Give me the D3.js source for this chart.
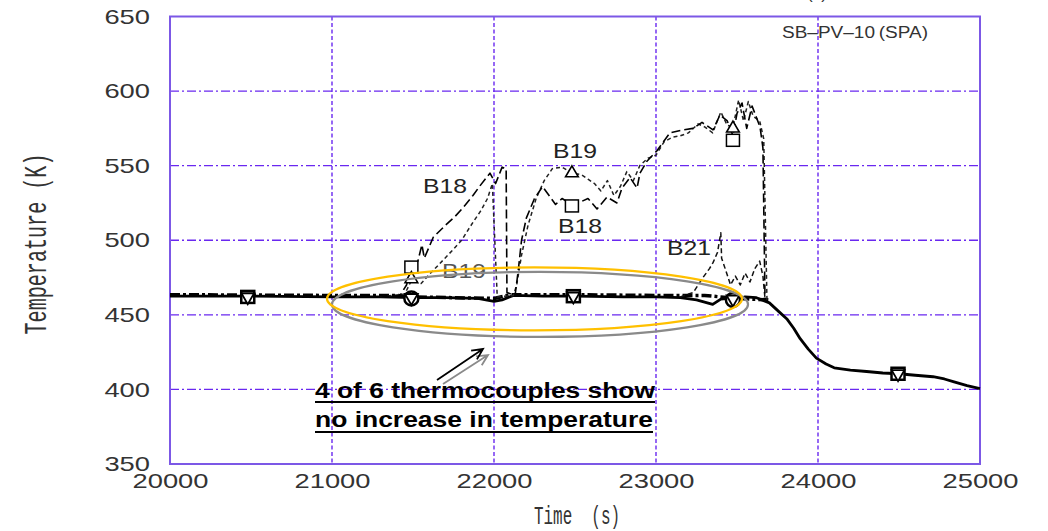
<!DOCTYPE html>
<html>
<head>
<meta charset="utf-8">
<script src="https://cdn.jsdelivr.net/npm/d3@7"></script>
<style>
  html, body { margin: 0; padding: 0; background: #fff; }
  svg { display: block; }
</style>
</head>
<body>
<svg id="chart" width="1048" height="531"></svg>
<script>
// ---- data (time s, temperature K) ----
var xTicks = [20000, 21000, 22000, 23000, 24000, 25000];
var yTicks = [350, 400, 450, 500, 550, 600, 650];

// thermocouples that stay flat (solid + dashed overlapping)
var baseSolid = [
  [20000, 462.5], [20500, 462.5], [21000, 462], [21300, 462], [21500, 461.5], [21700, 461.5],
  [21900, 461], [22000, 459], [22050, 460], [22120, 463], [22300, 462.5], [22500, 462.5],
  [22800, 462], [23000, 462], [23150, 461.5], [23250, 460], [23300, 458.5], [23350, 457],
  [23400, 460.5], [23450, 461], [23500, 460], [23550, 462], [23620, 461.5], [23700, 458],
  [23760, 452], [23810, 447], [23850, 441], [23890, 434], [23940, 427], [23990, 421],
  [24050, 417], [24100, 414.5], [24200, 413], [24300, 412], [24400, 411], [24500, 410.5],
  [24600, 409.5], [24710, 408.5], [24780, 407], [24840, 405], [24920, 402.5], [25000, 400.5]
];
var baseDashed = [
  [20000, 463.5], [21000, 463], [21400, 463], [21500, 462], [22000, 461], [22100, 463.5],
  [22500, 463.5], [23000, 463], [23300, 463], [23500, 461], [23700, 460]
];
var b18 = [
  [21300, 462], [21420, 463], [21460, 470], [21490, 482], [21530, 486], [21555, 497], [21570, 488],
  [21625, 502], [21700, 510], [21760, 516], [21810, 522], [21870, 530], [21910, 536], [21975, 545],
  [22010, 538], [22050, 549], [22075, 548], [22080, 465], [22130, 463], [22150, 480], [22170, 500],
  [22200, 515], [22250, 528], [22300, 536], [22340, 530], [22380, 524], [22420, 528], [22450, 526],
  [22490, 523], [22540, 526], [22580, 528], [22636, 521], [22698, 529], [22759, 525], [22790, 535],
  [22840, 542], [22883, 535], [22901, 545], [22944, 553], [23006, 560], [23086, 572], [23167, 574],
  [23228, 575], [23284, 579], [23352, 574], [23395, 584], [23440, 580], [23475, 570], [23500, 585],
  [23531, 592], [23560, 575], [23593, 590], [23642, 576], [23660, 562], [23673, 460]
];
var b19 = [
  [21300, 462], [21450, 464], [21490, 473], [21550, 471], [21600, 477], [21680, 486], [21750, 494],
  [21800, 500], [21870, 512], [21920, 520], [21960, 528], [21990, 538], [22000, 512], [22020, 462],
  [22120, 463], [22140, 470], [22170, 490], [22210, 510], [22260, 528], [22310, 540], [22360, 548],
  [22420, 549], [22481, 545], [22540, 544], [22580, 541], [22620, 538], [22660, 533], [22700, 540],
  [22740, 530], [22780, 536], [22820, 546], [22860, 540], [22900, 550], [22950, 555], [23000, 557],
  [23050, 566], [23100, 569], [23150, 570], [23200, 572], [23260, 578], [23300, 576], [23350, 572],
  [23400, 586], [23440, 577], [23475, 576], [23510, 594], [23540, 580], [23570, 593], [23600, 583],
  [23640, 580], [23665, 568], [23685, 460]
];
var b21 = [
  [23150, 462], [23230, 465], [23290, 475], [23330, 481], [23352, 485], [23380, 492], [23400, 505],
  [23405, 488], [23430, 480], [23460, 470], [23490, 476], [23520, 470], [23550, 478], [23580, 472],
  [23610, 481], [23640, 486], [23660, 476], [23672, 462]
];

// markers
var b18Squares = [[21490, 482], [22481, 523], [23475, 567]];
var b19Triangles = [[21490, 474], [22481, 545], [23475, 575]];
var baseDownTriangles = [[20480, 462], [21490, 461.5], [22490, 462.5], [23475, 460.5], [24494, 410.5]];
var baseSquares = [[20480, 462], [22490, 462.5], [24494, 410.5]];
var baseCircles = [[21490, 461], [23475, 460]];

// curve labels [text, time, temp at baseline, colour]
var curveLabels = [
  ['B18', 21562, 532, '#222'],
  ['B19', 21679, 475, '#555'],
  ['B19', 22364, 555, '#222'],
  ['B18', 22395, 505, '#222'],
  ['B21', 23068, 490, '#222']
];

// highlighted region (centre time, centre temp, half width s, half height K)
var ellipseGray = [22284, 457, 1284, 21.8];
var ellipseGold = [22250, 460.7, 1281, 21.1];

// ---- chart ----
var svg = d3.select('#chart');
var plotL = 170, plotR = 980, plotT = 16.5, plotB = 464;

var x = d3.scaleLinear().domain([20000, 25000]).range([plotL, plotR]);
var y = d3.scaleLinear().domain([350, 650]).range([plotB, plotT]);

var gridColor = '#6a28f0';
var frameColor = '#7c58e6';

// grid
svg.append('g').selectAll('line')
  .data(yTicks.slice(1, -1)).join('line')
  .attr('x1', plotL).attr('x2', plotR)
  .attr('y1', function(d) { return y(d); }).attr('y2', function(d) { return y(d); })
  .attr('stroke', gridColor).attr('stroke-width', 1.4)
  .attr('stroke-dasharray', '9,3,2,3');

svg.append('g').selectAll('line')
  .data(xTicks.slice(1, -1)).join('line')
  .attr('y1', plotT).attr('y2', plotB)
  .attr('x1', function(d) { return x(d); }).attr('x2', function(d) { return x(d); })
  .attr('stroke', gridColor).attr('stroke-width', 1.4)
  .attr('stroke-dasharray', '4,2.5');

// axes (labels only, frame drawn separately)
var yAxis = svg.append('g').attr('transform', 'translate(' + plotL + ',0)')
  .call(d3.axisLeft(y).tickValues(yTicks).tickSize(0).tickPadding(20).tickFormat(d3.format('d')));
var xAxis = svg.append('g').attr('transform', 'translate(0,' + plotB + ')')
  .call(d3.axisBottom(x).tickValues(xTicks).tickSize(0).tickPadding(9).tickFormat(d3.format('d')));
[yAxis, xAxis].forEach(function(g) {
  g.select('.domain').remove();
  g.selectAll('text')
    .attr('font-family', 'Liberation Sans, Arial, sans-serif')
    .attr('font-size', 21)
    .attr('fill', '#333')
    .attr('lengthAdjust', 'spacingAndGlyphs')
    .attr('textLength', function(d) { return String(d).length * 15.2; });
});

// frame
svg.append('rect')
  .attr('x', plotL).attr('y', plotT)
  .attr('width', plotR - plotL).attr('height', plotB - plotT)
  .attr('fill', 'none').attr('stroke', frameColor).attr('stroke-width', 2);

// axis titles
svg.append('text')
  .attr('transform', 'translate(46,244) rotate(-90)')
  .attr('text-anchor', 'middle')
  .attr('font-family', 'Liberation Mono, DejaVu Sans Mono, monospace')
  .attr('font-size', 31)
  .attr('fill', '#333')
  .attr('lengthAdjust', 'spacingAndGlyphs')
  .attr('textLength', 181)
  .text('Temperature (K)');

svg.append('text')
  .attr('x', 577).attr('y', 524)
  .attr('text-anchor', 'middle')
  .attr('font-family', 'Liberation Mono, DejaVu Sans Mono, monospace')
  .attr('font-size', 25)
  .attr('fill', '#333')
  .attr('lengthAdjust', 'spacingAndGlyphs')
  .attr('textLength', 86)
  .text('Time\u00a0\u00a0(s)');

// case id
svg.append('text')
  .attr('x', 782).attr('y', 38)
  .attr('font-family', 'Liberation Sans, Arial, sans-serif')
  .attr('font-size', 16)
  .attr('fill', '#333')
  .attr('lengthAdjust', 'spacingAndGlyphs')
  .attr('textLength', 146)
  .text('SB\u2013PV\u201310\u2009(SPA)');

// cut-off title fragment at the very top
svg.append('text')
  .attr('x', 817).attr('y', -1)
  .attr('text-anchor', 'middle')
  .attr('font-family', 'Liberation Sans, Arial, sans-serif')
  .attr('font-size', 17)
  .attr('fill', '#333')
  .text('(\u2002)');

// series
var line = d3.line()
  .x(function(d) { return x(d[0]); })
  .y(function(d) { return y(d[1]); });

var series = [
  { data: baseDashed, width: 3.5, dash: '10,3,3,3', color: '#000' },
  { data: baseSolid, width: 2.8, dash: null, color: '#000' },
  { data: b21, width: 1.5, dash: '5,3', color: '#111' },
  { data: b19, width: 1.5, dash: '4,3', color: '#222' },
  { data: b18, width: 1.6, dash: '9,4', color: '#000' }
];

svg.append('g').selectAll('path')
  .data(series).join('path')
  .attr('d', function(s) { return line(s.data); })
  .attr('fill', 'none')
  .attr('stroke', function(s) { return s.color; })
  .attr('stroke-width', function(s) { return s.width; })
  .attr('stroke-dasharray', function(s) { return s.dash; })
  .attr('stroke-linejoin', 'round');

// markers
var mk = svg.append('g').attr('fill', '#fff').attr('stroke', '#000');

mk.selectAll('rect.sq').data(b18Squares.concat(baseSquares)).join('rect')
  .attr('class', 'sq')
  .attr('x', function(d) { return x(d[0]) - 6.5; })
  .attr('y', function(d) { return y(d[1]) - 6; })
  .attr('width', 13).attr('height', 12)
  .attr('stroke-width', function(d, i) { return i < b18Squares.length ? 1.5 : 2.5; });

mk.selectAll('circle').data(baseCircles).join('circle')
  .attr('cx', function(d) { return x(d[0]); })
  .attr('cy', function(d) { return y(d[1]); })
  .attr('r', 7).attr('stroke-width', 2.5);

var tri = d3.symbol().type(d3.symbolTriangle).size(70);
mk.selectAll('path.up').data(b19Triangles).join('path')
  .attr('class', 'up')
  .attr('d', tri)
  .attr('transform', function(d) { return 'translate(' + x(d[0]) + ',' + y(d[1]) + ')'; })
  .attr('stroke-width', 1.6);

mk.selectAll('path.down').data(baseDownTriangles).join('path')
  .attr('class', 'down')
  .attr('d', tri)
  .attr('transform', function(d) { return 'translate(' + x(d[0]) + ',' + y(d[1]) + ') rotate(180)'; })
  .attr('stroke-width', 1.8);

// curve labels
svg.append('g').selectAll('text')
  .data(curveLabels).join('text')
  .attr('x', function(d) { return x(d[1]); })
  .attr('y', function(d) { return y(d[2]); })
  .attr('font-family', 'Liberation Sans, Arial, sans-serif')
  .attr('font-size', 21)
  .attr('fill', function(d) { return d[3]; })
  .attr('lengthAdjust', 'spacingAndGlyphs')
  .attr('textLength', 44)
  .text(function(d) { return d[0]; });

// highlight ellipses
[[ellipseGray, '#8a8a8a'], [ellipseGold, '#ffc000']].forEach(function(e) {
  var p = e[0];
  svg.append('ellipse')
    .attr('cx', x(p[0])).attr('cy', y(p[1]))
    .attr('rx', x(p[0] + p[2]) - x(p[0]))
    .attr('ry', y(p[1] - p[3]) - y(p[1]))
    .attr('fill', 'none')
    .attr('stroke', e[1])
    .attr('stroke-width', 2.2);
});

// arrows pointing at the ellipse
function arrow(x1, y1, x2, y2, color) {
  var a = Math.atan2(y2 - y1, x2 - x1), h = 12, w = 0.45;
  var p = 'M' + x1 + ',' + y1 + 'L' + x2 + ',' + y2 +
    'M' + (x2 - h * Math.cos(a - w)) + ',' + (y2 - h * Math.sin(a - w)) + 'L' + x2 + ',' + y2 +
    'L' + (x2 - h * Math.cos(a + w)) + ',' + (y2 - h * Math.sin(a + w));
  svg.append('path').attr('d', p).attr('fill', 'none').attr('stroke', color).attr('stroke-width', 1.8);
}
arrow(443, 384, 488, 355, '#8a8a8a');
arrow(437, 380, 483, 349, '#000');

// annotation text
var note = [['4 of 6 thermocouples show', 398, 402, 340], ['no increase in temperature', 427, 432, 338]];
note.forEach(function(n) {
  svg.append('text')
    .attr('x', 315).attr('y', n[1])
    .attr('font-family', 'Liberation Sans, Arial, sans-serif')
    .attr('font-weight', 'bold')
    .attr('font-size', 22)
    .attr('fill', '#000')
    .attr('lengthAdjust', 'spacingAndGlyphs')
    .attr('textLength', n[3])
    .text(n[0]);
  svg.append('line')
    .attr('x1', 315).attr('x2', 315 + n[3])
    .attr('y1', n[2]).attr('y2', n[2])
    .attr('stroke', '#000').attr('stroke-width', 2);
});
</script>
</body>
</html>
